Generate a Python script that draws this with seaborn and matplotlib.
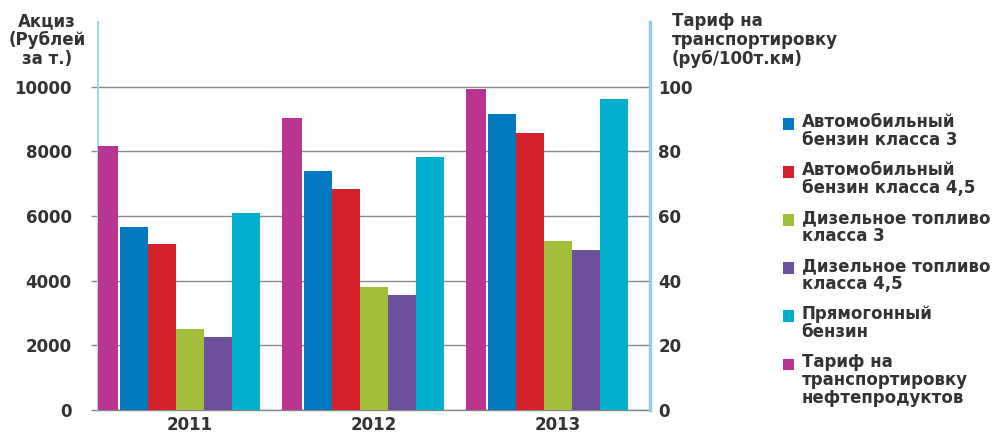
import numpy as np
import pandas as pd
import matplotlib
matplotlib.use("Agg")
import matplotlib.pyplot as plt
import seaborn as sns
from matplotlib.patches import Patch, Rectangle
from matplotlib.legend_handler import HandlerPatch

# ---- data ----
years = ["2011", "2012", "2013"]
series = ["Автомобильный\nбензин класса 3",
          "Автомобильный\nбензин класса 4,5",
          "Дизельное топливо\nкласса 3",
          "Дизельное топливо\nкласса 4,5",
          "Прямогонный\nбензин"]
gas3 = [5672, 7382, 9151]
gas45 = [5143, 6822, 8560]
dsl3 = [2500, 3814, 5232]
dsl45 = [2247, 3562, 4934]
straight = [6089, 7824, 9617]
tariff = [81.7, 90.4, 99.2]
tariff_label = "Тариф на\nтранспортировку\nнефтепродуктов"
left_ticks = [0, 2000, 4000, 6000, 8000, 10000]
right_ticks = [0, 20, 40, 60, 80, 100]

colors = ["#0079C1", "#D5202E", "#A2BE3A", "#6D519D", "#00AFCB"]
mag = "#B83692"
txt = "#333333"
FS = 12

sns.set_style("white")
plt.rcParams['font.family'] = ['DejaVu Sans']

rows = []
for s, vals in zip(series, [gas3, gas45, dsl3, dsl45, straight]):
    for y, v in zip(years, vals):
        rows.append({"year": y, "series": s, "value": v})
df = pd.DataFrame(rows)

fig = plt.figure(figsize=(10.06, 4.36), dpi=100)
ax = fig.add_axes([98/1006, 26/436, 552/1006, 388/436])

sns.barplot(data=df, x="year", y="value", hue="series", hue_order=series,
            palette=colors, saturation=1, width=0.765, linewidth=0,
            legend=False, ax=ax, zorder=3)
ax.set_xlim(-0.5, 2.5)
ax.set_ylim(0, 12000)
ax.set_yticks(left_ticks)
ax.set_yticklabels([str(t) for t in left_ticks], fontsize=FS, color=txt)
ax.set_xlabel("")
ax.set_ylabel("")
ax.yaxis.grid(True, color="#8a8a8a", lw=1, zorder=0)
ax.set_axisbelow(True)
ax.set_xticks([0, 1, 2])
ax.set_xticklabels(years, fontsize=FS, color=txt, fontweight="bold")
ax.tick_params(axis="x", which="major", length=0, pad=4)
ax.set_xticks([-0.5, 0.5, 1.5, 2.5], minor=True)
ax.tick_params(axis="x", which="minor", length=5, color="#868686", width=1)
ax.tick_params(axis="y", length=5, color="#868686", width=1, pad=14)
for t in ax.get_yticklabels():
    t.set_fontweight("bold")
for sp in ["top", "right"]:
    ax.spines[sp].set_visible(False)
ax.spines["left"].set_color("#A5D8EA")
ax.spines["left"].set_linewidth(1.5)
ax.spines["bottom"].set_color("#868686")
ax.spines["bottom"].set_linewidth(1)

ax2 = ax.twinx()
x = np.arange(len(years)) - 0.5
ax2.bar(x, tariff, width=20/184, align="edge", color=mag, linewidth=0, zorder=3)
ax2.set_ylim(0, 120)
ax2.set_yticks(right_ticks)
ax2.set_yticklabels([str(t) for t in right_ticks], fontsize=FS, color=txt)
for t in ax2.get_yticklabels():
    t.set_fontweight("bold")
ax2.tick_params(axis="y", direction="in", length=8, color="#868686", pad=6)
for sp in ["top", "left", "bottom"]:
    ax2.spines[sp].set_visible(False)
ax2.spines["right"].set_color("#8FD0E8")
ax2.spines["right"].set_linewidth(2.5)

fig.text(47/1006, 1 - 12/436, "Акциз\n(Рублей\nза т.)", ha="center", va="top",
         fontsize=FS, color=txt, fontweight="bold", linespacing=1.08,
         multialignment="center")
fig.text(672/1006, 1 - 12/436, "Тариф на\nтранспортировку\n(руб/100т.км)",
         ha="left", va="top", fontsize=FS, color=txt, fontweight="bold",
         linespacing=1.08)

labels = series + [tariff_label]
handles = [Patch(facecolor=c, edgecolor="none") for c in colors] + \
          [Patch(facecolor=mag, edgecolor="none")]
nlines = {id(h): lab.count("\n") + 1 for h, lab in zip(handles, labels)}
LINE_H = FS * 1.02


def top_square(legend, orig_handle, xdescent, ydescent, width, height, fontsize):
    n = nlines[id(orig_handle)]
    cy = height / 2 - ydescent + (n - 1) / 2 * LINE_H
    return Rectangle((-xdescent, cy - height / 2), width, height)


hmap = {h: HandlerPatch(patch_func=top_square) for h in handles}
leg = fig.legend(handles, labels, loc="upper left",
                 bbox_to_anchor=(775/1006, 1 - 105/436), frameon=False,
                 fontsize=FS, handlelength=0.65, handleheight=0.65,
                 handletextpad=0.45, labelspacing=0.72, borderpad=0,
                 handler_map=hmap)
for t in leg.get_texts():
    t.set_color(txt)
    t.set_fontweight("bold")
    t.set_linespacing(1.0)

fig.savefig("out.png", dpi=100)
